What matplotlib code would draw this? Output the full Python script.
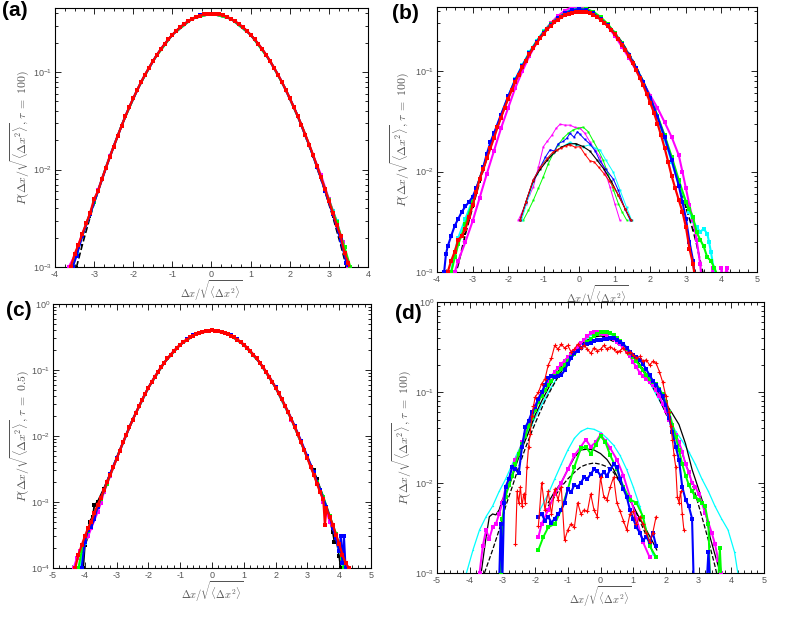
import numpy as np
import matplotlib
matplotlib.use('Agg')
import matplotlib.pyplot as plt
from matplotlib.ticker import MultipleLocator, LogLocator, NullFormatter

plt.rcParams['font.family'] = ['Liberation Sans', 'DejaVu Sans']
plt.rcParams['mathtext.fontset'] = 'custom'
plt.rcParams['mathtext.rm'] = 'Liberation Sans'
plt.rcParams['mathtext.it'] = 'Liberation Sans:italic'
plt.rcParams['axes.unicode_minus'] = False

CYAN = '#00ffff'
MAGENTA = '#ff00ff'
GREEN = '#00ff00'
BLUE = '#0000ff'
RED = '#ff0000'

# ---------------- panel (a): tau = 100 ----------------
a_red = [(-3.6, 0.0010), (-3.5, 0.00135), (-3.4, 0.0017), (-3.3, 0.0022), (-3.2, 0.0028),
         (-3.1, 0.0036), (-3.0, 0.0050), (-2.9, 0.0060), (-2.8, 0.0080), (-2.7, 0.0104),
         (-2.6, 0.0135), (-2.5, 0.0172), (-2.4, 0.0220), (-2.3, 0.0280), (-2.2, 0.0352),
         (-2.1, 0.0440), (-2.0, 0.0540), (-1.9, 0.0655), (-1.8, 0.0790), (-1.7, 0.0940),
         (-1.6, 0.1105), (-1.5, 0.1290), (-1.4, 0.1495), (-1.3, 0.1710), (-1.2, 0.1940),
         (-1.1, 0.2175), (-1.0, 0.2415), (-0.9, 0.2655), (-0.8, 0.2890), (-0.7, 0.3115),
         (-0.6, 0.3325), (-0.5, 0.3515), (-0.4, 0.3675), (-0.3, 0.3810), (-0.2, 0.3905),
         (-0.1, 0.3965), (0.0, 0.3985), (0.1, 0.3965), (0.2, 0.3910), (0.3, 0.3815),
         (0.4, 0.3685), (0.5, 0.3520), (0.6, 0.3330), (0.7, 0.3120), (0.8, 0.2895),
         (0.9, 0.2660), (1.0, 0.2420), (1.1, 0.2180), (1.2, 0.1945), (1.3, 0.1715),
         (1.4, 0.1500), (1.5, 0.1295), (1.6, 0.1110), (1.7, 0.0942), (1.8, 0.0792),
         (1.9, 0.0658), (2.0, 0.0542), (2.1, 0.0442), (2.2, 0.0358), (2.3, 0.0287),
         (2.4, 0.0228), (2.5, 0.0180), (2.6, 0.0140), (2.7, 0.0108), (2.8, 0.0083),
         (2.9, 0.0063), (3.0, 0.0048), (3.1, 0.0036), (3.2, 0.0027), (3.3, 0.0021),
         (3.4, 0.0014), (3.5, 0.0011), (3.55, 0.0009)]
a_blue = [(-3.55, 0.0010), (-3.45, 0.0013), (-3.3, 0.0021), (-3.1, 0.0035), (-2.9, 0.0060),
          (-2.7, 0.0103), (-2.5, 0.0172), (-2.3, 0.0280), (-2.1, 0.0440), (-1.9, 0.0655),
          (-1.7, 0.0940), (-1.5, 0.1292), (-1.3, 0.1712), (-1.1, 0.2178), (-0.9, 0.2660),
          (-0.7, 0.3120), (-0.5, 0.3520), (-0.3, 0.3812), (-0.1, 0.3970), (0.1, 0.3970),
          (0.3, 0.3815), (0.5, 0.3522), (0.7, 0.3122), (0.9, 0.2662), (1.1, 0.2180),
          (1.3, 0.1716), (1.5, 0.1297), (1.7, 0.0944), (1.9, 0.0660), (2.1, 0.0444),
          (2.3, 0.0286), (2.5, 0.0177), (2.7, 0.0106), (2.9, 0.0061), (3.1, 0.0035),
          (3.3, 0.0019), (3.45, 0.0011), (3.5, 0.0009)]
a_green = [(-3.55, 0.0010), (-3.4, 0.0016), (-3.2, 0.0028), (-3.0, 0.0046), (-2.7, 0.0105),
           (-2.3, 0.0282), (-1.9, 0.0657), (-1.5, 0.1297), (-1.0, 0.2422), (-0.5, 0.3522),
           (0.0, 0.3992), (0.5, 0.3522), (1.0, 0.2422), (1.5, 0.1297), (1.9, 0.0660),
           (2.3, 0.0287), (2.7, 0.0108), (3.0, 0.0049), (3.2, 0.0029), (3.4, 0.0016),
           (3.55, 0.0010)]
a_magenta = [(-3.65, 0.0010), (-3.5, 0.0013), (-3.3, 0.0022), (-3.1, 0.0036), (-2.9, 0.0062),
             (-2.6, 0.0137), (-2.2, 0.0356), (-1.8, 0.0791), (-1.4, 0.1498), (-1.0, 0.2421),
             (-0.5, 0.3522), (0.0, 0.3990), (0.5, 0.3522), (1.0, 0.2421), (1.4, 0.1498),
             (1.8, 0.0792), (2.2, 0.0357), (2.6, 0.0140), (2.8, 0.0088), (3.0, 0.0050),
             (3.2, 0.0029), (3.35, 0.0018), (3.5, 0.0010)]
a_cyan = [(-3.55, 0.0010), (-3.45, 0.0014), (-3.3, 0.0021), (-3.1, 0.0035), (-2.9, 0.0061),
          (-2.6, 0.0138), (-2.2, 0.0356), (-1.8, 0.0792), (-1.4, 0.1500), (-1.0, 0.2425),
          (-0.5, 0.3525), (0.0, 0.3990), (0.5, 0.3520), (1.0, 0.2420), (1.4, 0.1500),
          (1.8, 0.0795), (2.2, 0.0358), (2.6, 0.0140), (2.9, 0.0063), (3.1, 0.0038),
          (3.2, 0.0030), (3.3, 0.0021), (3.4, 0.0014), (3.5, 0.0010)]
a_black = [(-3.45, 0.0010), (-3.3, 0.0017), (-3.1, 0.0033), (-2.9, 0.0060), (-2.6, 0.0136),
           (-2.2, 0.0355), (-1.8, 0.0790), (-1.4, 0.1497), (-1.0, 0.2420), (-0.5, 0.3521),
           (0.0, 0.3989), (0.5, 0.3521), (1.0, 0.2420), (1.4, 0.1497), (1.8, 0.0790),
           (2.2, 0.0355), (2.6, 0.0136), (2.9, 0.0060), (3.1, 0.0033), (3.3, 0.0017),
           (3.45, 0.0010)]

# ---------------- panel (b): tau = 100, main curves ----------------
b_red = [(-3.7, 0.0010), (-3.6, 0.0013), (-3.5, 0.0016), (-3.4, 0.0021), (-3.3, 0.0023),
         (-3.2, 0.0027), (-3.1, 0.0035), (-3.0, 0.0046), (-2.9, 0.0062), (-2.8, 0.0085),
         (-2.7, 0.0105), (-2.6, 0.0135), (-2.5, 0.0170), (-2.4, 0.0215), (-2.3, 0.0275),
         (-2.2, 0.0345), (-2.1, 0.0430), (-2.0, 0.0530), (-1.9, 0.0645), (-1.8, 0.0780),
         (-1.7, 0.0925), (-1.6, 0.1090), (-1.5, 0.1270), (-1.4, 0.1470), (-1.3, 0.1680),
         (-1.2, 0.1900), (-1.1, 0.2130), (-1.0, 0.2360), (-0.9, 0.2600), (-0.8, 0.2830),
         (-0.7, 0.3050), (-0.6, 0.3250), (-0.5, 0.3440), (-0.4, 0.3600), (-0.3, 0.3730),
         (-0.2, 0.3830), (-0.1, 0.3900), (0.0, 0.3920), (0.1, 0.3900), (0.2, 0.3850),
         (0.3, 0.3750), (0.4, 0.3620), (0.5, 0.3450), (0.6, 0.3260), (0.7, 0.3040),
         (0.8, 0.2810), (0.9, 0.2570), (1.0, 0.2320), (1.1, 0.2080), (1.2, 0.1840),
         (1.3, 0.1610), (1.4, 0.1400), (1.5, 0.1200), (1.6, 0.1020), (1.7, 0.0860),
         (1.8, 0.0720), (1.9, 0.0590), (2.0, 0.0480), (2.1, 0.0385), (2.2, 0.0300),
         (2.3, 0.0230), (2.4, 0.0172), (2.5, 0.0125), (2.6, 0.0090), (2.7, 0.0068),
         (2.8, 0.0052), (2.9, 0.0040), (3.0, 0.0028), (3.1, 0.0017), (3.2, 0.0012),
         (3.25, 0.0009)]
b_blue = [(-3.8, 0.0010), (-3.75, 0.0015), (-3.7, 0.0018), (-3.6, 0.0023), (-3.5, 0.0029),
          (-3.4, 0.0034), (-3.3, 0.0040), (-3.2, 0.0045), (-3.1, 0.0050), (-3.0, 0.0056),
          (-2.9, 0.0068), (-2.8, 0.0085), (-2.7, 0.0110), (-2.6, 0.0150), (-2.5, 0.0195),
          (-2.4, 0.0240), (-2.2, 0.0370), (-2.0, 0.0560), (-1.8, 0.0820), (-1.6, 0.1130),
          (-1.4, 0.1500), (-1.2, 0.1950), (-1.0, 0.2420), (-0.8, 0.2900), (-0.6, 0.3350),
          (-0.4, 0.3750), (-0.2, 0.4050), (0.0, 0.4150), (0.2, 0.4050), (0.4, 0.3750),
          (0.6, 0.3300), (0.8, 0.2850), (1.0, 0.2350), (1.2, 0.1880), (1.4, 0.1450),
          (1.6, 0.1080), (1.8, 0.0780), (2.0, 0.0540), (2.2, 0.0350), (2.4, 0.0220),
          (2.6, 0.0130), (2.8, 0.0072), (2.9, 0.0050), (3.0, 0.0034), (3.1, 0.0020),
          (3.2, 0.0013), (3.25, 0.0009)]
b_green = [(-3.6, 0.0010), (-3.5, 0.0014), (-3.4, 0.0019), (-3.2, 0.0030), (-3.0, 0.0050),
           (-2.8, 0.0085), (-2.6, 0.0140), (-2.4, 0.0225), (-2.2, 0.0350), (-2.0, 0.0540),
           (-1.8, 0.0800), (-1.6, 0.1120), (-1.4, 0.1520), (-1.2, 0.1970), (-1.0, 0.2450),
           (-0.8, 0.2950), (-0.6, 0.3400), (-0.4, 0.3800), (-0.2, 0.4050), (0.0, 0.4200),
           (0.2, 0.4150), (0.4, 0.3900), (0.6, 0.3450), (0.8, 0.2950), (1.0, 0.2400),
           (1.2, 0.1900), (1.4, 0.1450), (1.6, 0.1080), (1.8, 0.0780), (2.0, 0.0540),
           (2.2, 0.0360), (2.4, 0.0230), (2.6, 0.0140), (2.8, 0.0082), (3.0, 0.0050),
           (3.1, 0.0042), (3.2, 0.0035), (3.3, 0.0025), (3.4, 0.0021), (3.5, 0.0018),
           (3.6, 0.0014), (3.7, 0.0013), (3.8, 0.0011), (3.9, 0.0009)]
b_magenta = [(-3.5, 0.0010), (-3.4, 0.0013), (-3.2, 0.0020), (-3.0, 0.0032), (-2.8, 0.0055),
             (-2.6, 0.0095), (-2.4, 0.0160), (-2.2, 0.0270), (-2.0, 0.0430), (-1.8, 0.0680),
             (-1.6, 0.1000), (-1.4, 0.1420), (-1.2, 0.1920), (-1.0, 0.2450), (-0.8, 0.3000),
             (-0.6, 0.3550), (-0.4, 0.4000), (-0.2, 0.4350), (0.0, 0.4400), (0.2, 0.4200),
             (0.4, 0.3850), (0.6, 0.3350), (0.8, 0.2800), (1.0, 0.2250), (1.2, 0.1750),
             (1.4, 0.1350), (1.6, 0.1020), (1.8, 0.0770), (2.0, 0.0570), (2.2, 0.0430),
             (2.4, 0.0310), (2.6, 0.0220), (2.8, 0.0145), (2.9, 0.0100), (3.0, 0.0068),
             (3.1, 0.0046), (3.2, 0.0033), (3.3, 0.0021), (3.4, 0.0012), (3.45, 0.0008),
             (3.7, 0.0008), (3.75, 0.0011), (3.8, 0.0008), (3.98, 0.0008), (4.0, 0.0011),
             (4.05, 0.0008), (4.15, 0.0011), (4.2, 0.0008)]
b_cyan = [(-3.6, 0.0010), (-3.5, 0.0016), (-3.4, 0.0022), (-3.2, 0.0034), (-3.0, 0.0052),
          (-2.8, 0.0085), (-2.6, 0.0140), (-2.4, 0.0230), (-2.2, 0.0360), (-2.0, 0.0560),
          (-1.8, 0.0830), (-1.6, 0.1150), (-1.4, 0.1550), (-1.2, 0.2000), (-1.0, 0.2500),
          (-0.8, 0.3000), (-0.6, 0.3450), (-0.4, 0.3850), (-0.2, 0.4200), (0.0, 0.4250),
          (0.2, 0.4100), (0.4, 0.3750), (0.6, 0.3300), (0.8, 0.2800), (1.0, 0.2300),
          (1.2, 0.1820), (1.4, 0.1400), (1.6, 0.1040), (1.8, 0.0750), (2.0, 0.0520),
          (2.2, 0.0340), (2.4, 0.0210), (2.6, 0.0125), (2.8, 0.0075), (3.0, 0.0050),
          (3.1, 0.0040), (3.2, 0.0032), (3.3, 0.0028), (3.4, 0.0025), (3.5, 0.0027),
          (3.6, 0.0024), (3.65, 0.0020), (3.7, 0.0016), (3.78, 0.0011), (3.82, 0.0009)]
b_black = [(-3.5, 0.0009), (-3.4, 0.0012), (-3.2, 0.0024), (-3.0, 0.0044), (-2.8, 0.0079),
           (-2.6, 0.0136), (-2.4, 0.0224), (-2.2, 0.0355), (-2.0, 0.0540), (-1.8, 0.0790),
           (-1.6, 0.1109), (-1.4, 0.1497), (-1.2, 0.1942), (-1.0, 0.2420), (-0.8, 0.2897),
           (-0.6, 0.3332), (-0.4, 0.3683), (-0.2, 0.3910), (0.0, 0.3989), (0.2, 0.3910),
           (0.4, 0.3683), (0.6, 0.3332), (0.8, 0.2897), (1.0, 0.2420), (1.2, 0.1942),
           (1.4, 0.1497), (1.6, 0.1109), (1.8, 0.0790), (2.0, 0.0540), (2.2, 0.0355),
           (2.4, 0.0224), (2.6, 0.0136), (2.8, 0.0079), (3.0, 0.0044), (3.2, 0.0026),
           (3.3, 0.0019), (3.4, 0.0013), (3.5, 0.0009)]

# panel (b) inset curves
bi_magenta = [(-1.71, 0.0033), (-1.5, 0.0048), (-1.29, 0.0071), (-1.15, 0.0110), (-1.01, 0.0177),
              (-0.9, 0.0200), (-0.77, 0.0230), (-0.65, 0.0270), (-0.54, 0.0296), (-0.4, 0.0290),
              (-0.26, 0.0290), (-0.12, 0.0275), (0.02, 0.0270), (0.16, 0.0240), (0.3, 0.0197),
              (0.44, 0.0165), (0.58, 0.0140), (0.72, 0.0100), (0.86, 0.0071), (1.0, 0.0048),
              (1.14, 0.0033)]
bi_green = [(-1.57, 0.0033), (-1.43, 0.0041), (-1.29, 0.0052), (-1.15, 0.0068), (-1.01, 0.0089),
            (-0.87, 0.0120), (-0.73, 0.0152), (-0.59, 0.0185), (-0.45, 0.0216), (-0.31, 0.0240),
            (-0.17, 0.0260), (-0.03, 0.0270), (0.11, 0.0277), (0.25, 0.0250), (0.39, 0.0203),
            (0.53, 0.0165), (0.67, 0.0130), (0.81, 0.0095), (0.96, 0.0066), (1.1, 0.0048),
            (1.2, 0.0040), (1.33, 0.0033)]
bi_blue = [(-1.66, 0.0033), (-1.5, 0.0050), (-1.29, 0.0083), (-1.1, 0.0110), (-0.95, 0.0140),
           (-0.82, 0.0165), (-0.7, 0.0160), (-0.59, 0.0190), (-0.45, 0.0200), (-0.35, 0.0215),
           (-0.26, 0.0240), (-0.15, 0.0220), (-0.05, 0.0250), (0.02, 0.0235), (0.15, 0.0210),
           (0.3, 0.0188), (0.45, 0.0160), (0.58, 0.0128), (0.75, 0.0105), (0.96, 0.0084),
           (1.1, 0.0065), (1.29, 0.0042), (1.43, 0.0033)]
bi_cyan = [(-1.62, 0.0033), (-1.4, 0.0060), (-1.2, 0.0095), (-1.0, 0.0125), (-0.85, 0.0140),
           (-0.73, 0.0152), (-0.5, 0.0175), (-0.26, 0.0196), (-0.1, 0.0185), (0.11, 0.0177),
           (0.3, 0.0185), (0.45, 0.0170), (0.58, 0.0165), (0.75, 0.0130), (0.96, 0.0098),
           (1.15, 0.0065), (1.33, 0.0044), (1.47, 0.0033)]
bi_black = [(-1.66, 0.0033), (-1.5, 0.0050), (-1.3, 0.0080), (-1.1, 0.0105), (-0.9, 0.0130),
            (-0.7, 0.0155), (-0.5, 0.0175), (-0.3, 0.0188), (-0.1, 0.0190), (0.1, 0.0178),
            (0.3, 0.0160), (0.5, 0.0130), (0.7, 0.0105), (0.9, 0.0080), (1.1, 0.0058),
            (1.3, 0.0042), (1.45, 0.0033)]
bi_red = [(-1.66, 0.0033), (-1.5, 0.0050), (-1.3, 0.0082), (-1.1, 0.0110), (-0.9, 0.0135),
          (-0.75, 0.0155), (-0.64, 0.0165), (-0.5, 0.0172), (-0.38, 0.0180), (-0.26, 0.0185),
          (-0.12, 0.0175), (0.02, 0.0177), (0.15, 0.0150), (0.3, 0.0128), (0.42, 0.0125),
          (0.55, 0.0110), (0.7, 0.0095), (0.85, 0.0080), (0.96, 0.0071), (1.1, 0.0058),
          (1.3, 0.0042), (1.45, 0.0033)]

# ---------------- panel (c): tau = 0.5 ----------------
c_red = [(-4.3, 0.00010), (-4.2, 0.00016), (-4.1, 0.00022), (-4.0, 0.00030), (-3.9, 0.00040),
         (-3.8, 0.00050), (-3.7, 0.00068), (-3.6, 0.00090), (-3.5, 0.00115), (-3.4, 0.00150),
         (-3.3, 0.00200), (-3.2, 0.00260), (-3.1, 0.00340), (-3.0, 0.00450), (-2.9, 0.00600),
         (-2.8, 0.00800), (-2.7, 0.0104), (-2.6, 0.0135), (-2.5, 0.0172), (-2.4, 0.0220),
         (-2.3, 0.0280), (-2.2, 0.0352), (-2.1, 0.0440), (-2.0, 0.0540), (-1.9, 0.0655),
         (-1.8, 0.0790), (-1.7, 0.0940), (-1.6, 0.1105), (-1.5, 0.1290), (-1.4, 0.1495),
         (-1.3, 0.1710), (-1.2, 0.1940), (-1.1, 0.2175), (-1.0, 0.2415), (-0.9, 0.2655),
         (-0.8, 0.2890), (-0.7, 0.3115), (-0.6, 0.3325), (-0.5, 0.3515), (-0.4, 0.3675),
         (-0.3, 0.3810), (-0.2, 0.3905), (-0.1, 0.3965), (0.0, 0.4000), (0.1, 0.3965),
         (0.2, 0.3910), (0.3, 0.3815), (0.4, 0.3685), (0.5, 0.3520), (0.6, 0.3330),
         (0.7, 0.3120), (0.8, 0.2895), (0.9, 0.2660), (1.0, 0.2420), (1.1, 0.2180),
         (1.2, 0.1945), (1.3, 0.1715), (1.4, 0.1500), (1.5, 0.1295), (1.6, 0.1110),
         (1.7, 0.0942), (1.8, 0.0792), (1.9, 0.0658), (2.0, 0.0542), (2.1, 0.0442),
         (2.2, 0.0358), (2.3, 0.0287), (2.4, 0.0228), (2.5, 0.0178), (2.6, 0.0138),
         (2.7, 0.0106), (2.8, 0.0081), (2.9, 0.0061), (3.0, 0.0046), (3.1, 0.0034),
         (3.2, 0.0026), (3.3, 0.0019), (3.4, 0.0014), (3.5, 0.0011), (3.55, 0.00045),
         (3.6, 0.0008), (3.7, 0.00060), (3.8, 0.00045), (3.9, 0.00032), (4.0, 0.00023),
         (4.1, 0.00016), (4.2, 0.00012), (4.3, 0.00010)]
c_blue = [(-4.1, 0.0001), (-4.0, 0.00025), (-3.9, 0.00038), (-3.8, 0.00042), (-3.7, 0.00055),
          (-3.6, 0.00085), (-3.4, 0.0015), (-3.2, 0.0027), (-3.0, 0.0046), (-2.8, 0.0080),
          (-2.6, 0.0136), (-2.4, 0.0222), (-2.2, 0.0354), (-2.0, 0.0541), (-1.8, 0.0790),
          (-1.6, 0.1108), (-1.4, 0.1497), (-1.2, 0.1942), (-1.0, 0.2420), (-0.8, 0.2897),
          (-0.6, 0.3332), (-0.4, 0.3683), (-0.2, 0.3910), (0.0, 0.3995), (0.2, 0.3915),
          (0.4, 0.3690), (0.6, 0.3340), (0.8, 0.2905), (1.0, 0.2430), (1.2, 0.1950),
          (1.4, 0.1505), (1.6, 0.1115), (1.8, 0.0795), (2.0, 0.0545), (2.2, 0.0360),
          (2.4, 0.0230), (2.6, 0.0142), (2.8, 0.0085), (3.0, 0.0049), (3.2, 0.0028),
          (3.4, 0.0015), (3.6, 0.00085), (3.7, 0.00060), (3.8, 0.00040), (3.9, 0.00028),
          (4.0, 0.00018), (4.05, 0.00030), (4.1, 0.00012), (4.15, 0.00030), (4.2, 0.0001)]
c_green = [(-4.2, 0.0001), (-4.1, 0.00018), (-4.0, 0.00026), (-3.9, 0.00036), (-3.7, 0.00060),
           (-3.5, 0.0011), (-3.3, 0.0019), (-3.0, 0.0046), (-2.5, 0.0176), (-2.0, 0.0541),
           (-1.5, 0.1296), (-1.0, 0.2421), (-0.5, 0.3522), (0.0, 0.3992), (0.5, 0.3522),
           (1.0, 0.2421), (1.5, 0.1297), (2.0, 0.0542), (2.5, 0.0178), (3.0, 0.0047),
           (3.3, 0.0020), (3.5, 0.0012), (3.7, 0.00062), (3.9, 0.00033), (4.0, 0.00022),
           (4.1, 0.00014), (4.15, 0.0001)]
c_magenta = [(-4.35, 0.0001), (-4.25, 0.00014), (-4.15, 0.00018), (-4.0, 0.00025), (-3.9, 0.00030),
             (-3.8, 0.00040), (-3.6, 0.00070), (-3.5, 0.00095), (-3.4, 0.0014), (-3.2, 0.0025),
             (-3.0, 0.0045), (-2.5, 0.0175), (-2.0, 0.0540), (-1.5, 0.1295), (-1.0, 0.2420),
             (-0.5, 0.3521), (0.0, 0.3990), (0.5, 0.3521), (1.0, 0.2420), (1.5, 0.1295),
             (2.0, 0.0541), (2.5, 0.0177), (3.0, 0.0047), (3.4, 0.0015), (3.5, 0.0010),
             (3.6, 0.00075), (3.7, 0.00050), (3.8, 0.00040), (3.9, 0.00030), (4.0, 0.00022),
             (4.1, 0.00015), (4.2, 0.00012), (4.3, 0.0001)]
c_cyan = [(-4.15, 0.0001), (-4.0, 0.00024), (-3.8, 0.00045), (-3.5, 0.0011), (-3.0, 0.0046),
          (-2.5, 0.0175), (-2.0, 0.0540), (-1.5, 0.1295), (-1.0, 0.2420), (-0.5, 0.3521),
          (0.0, 0.3990), (0.5, 0.3521), (1.0, 0.2420), (1.5, 0.1295), (2.0, 0.0541),
          (2.5, 0.0177), (3.0, 0.0047), (3.5, 0.0011), (3.8, 0.00042), (4.0, 0.00020),
          (4.15, 0.0001)]
c_black = [(-4.05, 0.0001), (-4.0, 0.00022), (-3.9, 0.00030), (-3.85, 0.00050), (-3.75, 0.00060),
           (-3.7, 0.00090), (-3.6, 0.0010), (-3.4, 0.0016), (-3.0, 0.0046), (-2.5, 0.0175),
           (-2.0, 0.0540), (-1.5, 0.1295), (-1.0, 0.2420), (-0.5, 0.3521), (0.0, 0.3990),
           (0.5, 0.3521), (1.0, 0.2420), (1.5, 0.1295), (2.0, 0.0540), (2.5, 0.0176),
           (3.0, 0.0046), (3.2, 0.0030), (3.3, 0.0022), (3.5, 0.0012), (3.7, 0.00055),
           (3.8, 0.00035), (3.85, 0.00025), (3.9, 0.00030), (4.0, 0.00015), (4.05, 0.0001)]

# ---------------- panel (d): tau = 100, main curves ----------------
d_cyan = [(-4.1, 0.0010), (-3.9, 0.0018), (-3.7, 0.0030), (-3.5, 0.0042), (-3.3, 0.0055),
          (-3.1, 0.0080), (-2.9, 0.0110), (-2.7, 0.0160), (-2.5, 0.0230), (-2.3, 0.0320),
          (-2.1, 0.0440), (-1.9, 0.0620), (-1.7, 0.0850), (-1.5, 0.1150), (-1.3, 0.1500),
          (-1.1, 0.1950), (-0.9, 0.2500), (-0.7, 0.3100), (-0.5, 0.3700), (-0.3, 0.4300),
          (-0.1, 0.4700), (0.1, 0.4700), (0.3, 0.4400), (0.5, 0.4000), (0.7, 0.3500),
          (0.9, 0.2900), (1.1, 0.2300), (1.3, 0.1750), (1.5, 0.1300), (1.7, 0.0950),
          (1.9, 0.0700), (2.1, 0.0500), (2.3, 0.0370), (2.5, 0.0290), (2.7, 0.0220),
          (2.9, 0.0160), (3.1, 0.0110), (3.3, 0.0080), (3.5, 0.0055), (3.7, 0.0040),
          (3.9, 0.0030), (4.1, 0.0017), (4.2, 0.0010)]
d_black = [(-3.65, 0.0010), (-3.5, 0.0025), (-3.4, 0.0042), (-3.3, 0.0045), (-3.2, 0.0044),
           (-3.1, 0.0050), (-3.0, 0.0065), (-2.8, 0.0090), (-2.6, 0.0150), (-2.4, 0.0240),
           (-2.2, 0.0360), (-2.0, 0.0560), (-1.8, 0.0800), (-1.6, 0.1100), (-1.4, 0.1500),
           (-1.2, 0.1950), (-1.0, 0.2450), (-0.8, 0.2950), (-0.6, 0.3400), (-0.4, 0.3800),
           (-0.2, 0.4100), (0.0, 0.4200), (0.2, 0.4100), (0.4, 0.3850), (0.6, 0.3500),
           (0.8, 0.3050), (1.0, 0.2550), (1.2, 0.2050), (1.4, 0.1600), (1.6, 0.1250),
           (1.8, 0.0950), (2.0, 0.0750), (2.2, 0.0580), (2.4, 0.0440), (2.6, 0.0270),
           (2.8, 0.0140), (3.0, 0.0085), (3.2, 0.0050), (3.35, 0.0025), (3.5, 0.0016),
           (3.6, 0.0012), (3.65, 0.0010)]
d_black_dash = [(-3.55, 0.0010), (-3.3, 0.0018), (-3.1, 0.0030), (-2.9, 0.0055), (-2.7, 0.0090),
                (-2.5, 0.0150), (-2.3, 0.0240), (-2.1, 0.0370), (-1.9, 0.0550), (-1.7, 0.0800),
                (-1.5, 0.1100), (-1.3, 0.1480), (-1.1, 0.1920), (-0.9, 0.2400), (-0.7, 0.2900),
                (-0.5, 0.3350), (-0.3, 0.3700), (-0.1, 0.3900), (0.1, 0.3920), (0.3, 0.3800),
                (0.5, 0.3500), (0.7, 0.3100), (0.9, 0.2650), (1.1, 0.2180), (1.3, 0.1720),
                (1.5, 0.1320), (1.7, 0.0980), (1.9, 0.0700), (2.1, 0.0480), (2.3, 0.0320),
                (2.5, 0.0210), (2.7, 0.0130), (2.9, 0.0075), (3.1, 0.0042), (3.3, 0.0023),
                (3.5, 0.0012), (3.55, 0.0010)]
d_magenta = [(-3.7, 0.0010), (-3.6, 0.0020), (-3.5, 0.0030), (-3.4, 0.0024), (-3.3, 0.0032),
             (-3.2, 0.0035), (-3.1, 0.0045), (-3.0, 0.0060), (-2.9, 0.0090), (-2.8, 0.0110),
             (-2.7, 0.0150), (-2.6, 0.0180), (-2.5, 0.0210), (-2.4, 0.0280), (-2.3, 0.0340),
             (-2.2, 0.0450), (-2.1, 0.0580), (-2.0, 0.0700), (-1.9, 0.0850), (-1.8, 0.1000),
             (-1.7, 0.1200), (-1.6, 0.1350), (-1.5, 0.1500), (-1.4, 0.1700), (-1.3, 0.1850),
             (-1.2, 0.2050), (-1.1, 0.2250), (-1.0, 0.2450), (-0.9, 0.2650), (-0.8, 0.2900),
             (-0.7, 0.3150), (-0.6, 0.3500), (-0.5, 0.3800), (-0.4, 0.4200), (-0.3, 0.4500),
             (-0.2, 0.4700), (-0.1, 0.4600), (0.0, 0.4550), (0.1, 0.4400), (0.2, 0.4200),
             (0.3, 0.4000), (0.4, 0.3850), (0.5, 0.3600), (0.6, 0.3400), (0.7, 0.3150),
             (0.8, 0.2850), (0.9, 0.2500), (1.0, 0.2150), (1.1, 0.1900), (1.2, 0.1650),
             (1.3, 0.1500), (1.4, 0.1400), (1.5, 0.1300), (1.6, 0.1200), (1.7, 0.1050),
             (1.8, 0.0900), (1.9, 0.0750), (2.0, 0.0620), (2.1, 0.0500), (2.2, 0.0420),
             (2.3, 0.0340), (2.4, 0.0280), (2.5, 0.0220), (2.6, 0.0160), (2.7, 0.0130),
             (2.8, 0.0100), (2.9, 0.0090), (3.0, 0.0075), (3.1, 0.0060), (3.2, 0.0046),
             (3.3, 0.0036), (3.4, 0.0028), (3.5, 0.0021), (3.6, 0.0014), (3.7, 0.0010)]
d_green = [(-3.05, 0.0010), (-3.0, 0.0040), (-2.9, 0.0070), (-2.8, 0.0095), (-2.7, 0.0120),
           (-2.6, 0.0160), (-2.5, 0.0210), (-2.4, 0.0270), (-2.3, 0.0330), (-2.2, 0.0420),
           (-2.1, 0.0520), (-2.0, 0.0640), (-1.9, 0.0780), (-1.8, 0.0920), (-1.7, 0.1050),
           (-1.6, 0.1200), (-1.5, 0.1350), (-1.4, 0.1500), (-1.3, 0.1650), (-1.2, 0.1800),
           (-1.1, 0.2000), (-1.0, 0.2250), (-0.9, 0.2450), (-0.8, 0.2650), (-0.7, 0.2850),
           (-0.6, 0.3100), (-0.5, 0.3300), (-0.4, 0.3600), (-0.3, 0.3900), (-0.2, 0.4200),
           (-0.1, 0.4400), (0.0, 0.4600), (0.1, 0.4700), (0.2, 0.4600), (0.3, 0.4500),
           (0.4, 0.4300), (0.5, 0.4000), (0.6, 0.3700), (0.7, 0.3400), (0.8, 0.3050),
           (0.9, 0.2750), (1.0, 0.2450), (1.1, 0.2200), (1.2, 0.1950), (1.3, 0.1750),
           (1.4, 0.1550), (1.5, 0.1400), (1.6, 0.1300), (1.7, 0.1250), (1.8, 0.1100),
           (1.9, 0.0950), (2.0, 0.0780), (2.1, 0.0600), (2.2, 0.0440), (2.3, 0.0320),
           (2.4, 0.0230), (2.5, 0.0160), (2.6, 0.0120), (2.7, 0.0095), (2.8, 0.0080),
           (2.9, 0.0070), (3.0, 0.0065), (3.1, 0.0060), (3.2, 0.0055), (3.3, 0.0035),
           (3.35, 0.0008), (3.6, 0.0008), (3.65, 0.0019), (3.7, 0.0008)]
d_blue = [(-3.1, 0.0008), (-3.05, 0.0035), (-3.0, 0.0009), (-2.95, 0.0060), (-2.9, 0.0090),
          (-2.8, 0.0110), (-2.7, 0.0150), (-2.6, 0.0140), (-2.5, 0.0127), (-2.4, 0.0250),
          (-2.3, 0.0410), (-2.2, 0.0480), (-2.1, 0.0600), (-2.0, 0.0690), (-1.9, 0.0850),
          (-1.8, 0.1000), (-1.7, 0.1200), (-1.6, 0.1450), (-1.5, 0.1500), (-1.4, 0.1480),
          (-1.3, 0.1520), (-1.2, 0.1550), (-1.1, 0.1750), (-1.0, 0.2050), (-0.9, 0.2400),
          (-0.8, 0.2700), (-0.7, 0.2900), (-0.6, 0.3100), (-0.5, 0.3300), (-0.4, 0.3400),
          (-0.3, 0.3500), (-0.2, 0.3700), (-0.1, 0.3800), (0.0, 0.3750), (0.1, 0.3850),
          (0.2, 0.3900), (0.3, 0.4000), (0.4, 0.3950), (0.5, 0.3800), (0.6, 0.3600),
          (0.7, 0.3400), (0.8, 0.3100), (0.9, 0.2800), (1.0, 0.2600), (1.1, 0.2450),
          (1.2, 0.2300), (1.3, 0.2050), (1.4, 0.1800), (1.5, 0.1550), (1.6, 0.1350),
          (1.7, 0.1200), (1.8, 0.1050), (1.9, 0.0900), (2.0, 0.0720), (2.1, 0.0520),
          (2.2, 0.0360), (2.3, 0.0250), (2.4, 0.0180), (2.5, 0.0090), (2.6, 0.0065),
          (2.7, 0.0055), (2.8, 0.0040), (2.85, 0.0008), (3.25, 0.0008), (3.3, 0.0017),
          (3.35, 0.0008)]
d_red = [(-2.6, 0.0021), (-2.55, 0.0080), (-2.5, 0.0060), (-2.45, 0.0090), (-2.4, 0.0055),
         (-2.35, 0.0075), (-2.3, 0.0060), (-2.25, 0.0150), (-2.2, 0.0250), (-2.15, 0.0350),
         (-2.1, 0.0550), (-2.05, 0.0700), (-2.0, 0.0880), (-1.9, 0.1000), (-1.8, 0.1250),
         (-1.7, 0.1400), (-1.6, 0.2000), (-1.5, 0.2400), (-1.4, 0.3300), (-1.3, 0.3000),
         (-1.2, 0.3400), (-1.1, 0.3100), (-1.0, 0.3300), (-0.9, 0.2800), (-0.8, 0.3000),
         (-0.7, 0.3400), (-0.6, 0.3100), (-0.5, 0.3300), (-0.4, 0.3000), (-0.3, 0.2700),
         (-0.2, 0.3100), (-0.1, 0.2900), (0.0, 0.3000), (0.1, 0.3300), (0.2, 0.3000),
         (0.3, 0.3200), (0.4, 0.3000), (0.5, 0.2800), (0.6, 0.2900), (0.7, 0.3100),
         (0.8, 0.2700), (0.9, 0.2800), (1.0, 0.2600), (1.1, 0.2400), (1.2, 0.2500),
         (1.3, 0.2200), (1.4, 0.2300), (1.5, 0.2000), (1.6, 0.2200), (1.7, 0.2100),
         (1.8, 0.1700), (1.9, 0.1300), (2.0, 0.0900), (2.1, 0.0600), (2.15, 0.0420),
         (2.2, 0.0300), (2.25, 0.0200), (2.3, 0.0150), (2.35, 0.0070), (2.4, 0.0060),
         (2.45, 0.0080), (2.5, 0.0045), (2.55, 0.0030)]

# panel (d) inset curves
di_cyan = [(-1.85, 0.0050), (-1.6, 0.0075), (-1.4, 0.0110), (-1.2, 0.0160), (-1.0, 0.0230),
           (-0.8, 0.0310), (-0.6, 0.0370), (-0.4, 0.0400), (-0.2, 0.0390), (0.0, 0.0360),
           (0.2, 0.0310), (0.4, 0.0260), (0.6, 0.0200), (0.8, 0.0140), (1.0, 0.0090),
           (1.2, 0.0055), (1.4, 0.0030), (1.6, 0.0016)]
di_black = [(-1.6, 0.0060), (-1.4, 0.0080), (-1.2, 0.0100), (-1.0, 0.0140), (-0.8, 0.0190),
            (-0.6, 0.0230), (-0.4, 0.0235), (-0.2, 0.0230), (0.0, 0.0210), (0.2, 0.0180),
            (0.4, 0.0140), (0.6, 0.0100), (0.8, 0.0075), (1.0, 0.0055), (1.2, 0.0040),
            (1.4, 0.0030), (1.6, 0.0022), (1.72, 0.0018)]
di_black_dash = [(-1.6, 0.0055), (-1.4, 0.0070), (-1.2, 0.0090), (-1.0, 0.0110), (-0.8, 0.0130),
                 (-0.6, 0.0150), (-0.4, 0.0160), (-0.2, 0.0165), (0.0, 0.0160), (0.2, 0.0150),
                 (0.4, 0.0130), (0.6, 0.0100), (0.8, 0.0075), (1.0, 0.0055), (1.2, 0.0038),
                 (1.4, 0.0026), (1.6, 0.0017)]
di_magenta = [(-1.9, 0.0025), (-1.8, 0.0035), (-1.6, 0.0050), (-1.4, 0.0075), (-1.2, 0.0100),
              (-1.0, 0.0140), (-0.8, 0.0200), (-0.6, 0.0250), (-0.45, 0.0300), (-0.3, 0.0250),
              (-0.15, 0.0280), (0.0, 0.0340), (0.15, 0.0290), (0.3, 0.0240), (0.5, 0.0180),
              (0.7, 0.0120), (0.9, 0.0070), (1.1, 0.0040), (1.3, 0.0022), (1.5, 0.0015)]
di_green = [(-1.9, 0.0018), (-1.75, 0.0025), (-1.6, 0.0032), (-1.4, 0.0035), (-1.2, 0.0050),
            (-1.0, 0.0085), (-0.8, 0.0150), (-0.6, 0.0240), (-0.45, 0.0250), (-0.3, 0.0210),
            (-0.15, 0.0260), (0.0, 0.0330), (0.15, 0.0280), (0.3, 0.0200), (0.5, 0.0140),
            (0.7, 0.0090), (0.9, 0.0065), (1.1, 0.0060), (1.3, 0.0042), (1.5, 0.0020),
            (1.7, 0.0015)]
di_blue = [(-1.9, 0.0042), (-1.8, 0.0045), (-1.7, 0.0038), (-1.6, 0.0042), (-1.5, 0.0036),
           (-1.4, 0.0040), (-1.3, 0.0045), (-1.2, 0.0050), (-1.1, 0.0060), (-1.0, 0.0085),
           (-0.9, 0.0078), (-0.8, 0.0095), (-0.7, 0.0090), (-0.6, 0.0100), (-0.5, 0.0115),
           (-0.4, 0.0110), (-0.3, 0.0125), (-0.2, 0.0140), (-0.1, 0.0135), (0.0, 0.0120),
           (0.1, 0.0130), (0.2, 0.0120), (0.3, 0.0140), (0.4, 0.0160), (0.5, 0.0150),
           (0.6, 0.0110), (0.7, 0.0085), (0.8, 0.0070), (0.9, 0.0050), (1.0, 0.0040),
           (1.1, 0.0032), (1.2, 0.0028), (1.3, 0.0023), (1.4, 0.0025), (1.5, 0.0022),
           (1.6, 0.0028), (1.7, 0.0020)]
di_red = [(-1.9, 0.0033), (-1.8, 0.0100), (-1.7, 0.0050), (-1.6, 0.0080), (-1.5, 0.0045),
          (-1.4, 0.0085), (-1.3, 0.0065), (-1.2, 0.0090), (-1.1, 0.0023), (-1.0, 0.0030),
          (-0.9, 0.0035), (-0.8, 0.0032), (-0.7, 0.0060), (-0.6, 0.0045), (-0.5, 0.0050),
          (-0.4, 0.0048), (-0.3, 0.0075), (-0.2, 0.0050), (-0.1, 0.0042), (0.0, 0.0115),
          (0.1, 0.0070), (0.2, 0.0065), (0.3, 0.0090), (0.4, 0.0115), (0.5, 0.0060),
          (0.6, 0.0048), (0.7, 0.0038), (0.8, 0.0030), (0.9, 0.0045), (1.0, 0.0048),
          (1.1, 0.0035), (1.2, 0.0042), (1.3, 0.0035), (1.4, 0.0028), (1.5, 0.0022),
          (1.6, 0.0028), (1.7, 0.0042)]

XLABEL = r'$\Delta x/\sqrt{\langle\Delta x^2\rangle}$'
YLAB_100 = r'$P(\Delta x/\sqrt{\langle\Delta x^2\rangle}, \tau\ =\ 100)$'
YLAB_05 = r'$P(\Delta x/\sqrt{\langle\Delta x^2\rangle}, \tau\ =\ 0.5)$'
GREY = '#555555'


def draw(ax, pts, color, ls='-', lw=1.5, marker='s', ms=2.6, z=2):
    x, y = zip(*pts)
    mew = 0.8 if marker == '+' else 0
    ax.plot(x, y, color=color, ls=ls, lw=lw, marker=marker, ms=ms, mew=mew, zorder=z)


def setup(ax, xlim, ylim, xminor, ylabel, ylab_x):
    ax.set_yscale('log')
    ax.set_xlim(xlim)
    ax.set_ylim(ylim)
    ax.xaxis.set_major_locator(MultipleLocator(1))
    ax.xaxis.set_minor_locator(MultipleLocator(xminor))
    ax.yaxis.set_major_locator(LogLocator(base=10, numticks=10))
    ax.yaxis.set_minor_locator(LogLocator(base=10, subs=np.arange(2, 10) * 1.0, numticks=20))
    ax.yaxis.set_minor_formatter(NullFormatter())
    ax.tick_params(which='both', direction='in', top=True, right=True,
                   labelsize=6.5, labelcolor=GREY, width=0.6, pad=2)
    ax.tick_params(which='major', length=4)
    ax.tick_params(which='minor', length=2)
    for s in ax.spines.values():
        s.set_linewidth(0.8)
    ax.set_xlabel(XLABEL, fontsize=7.5, color=GREY, math_fontfamily='cm', labelpad=0)
    ax.set_ylabel(ylabel, fontsize=8.5, color=GREY, math_fontfamily='cm')
    ax.yaxis.set_label_coords(ylab_x, 0.5)


fig = plt.figure(figsize=(7.89, 6.42), dpi=100)
axa = fig.add_axes([0.0697, 0.584, 0.3967, 0.4034])
axb = fig.add_axes([0.5539, 0.5763, 0.4056, 0.4128])
axc = fig.add_axes([0.0672, 0.1153, 0.4030, 0.4112])
axd = fig.add_axes([0.5539, 0.1075, 0.4144, 0.4221])

# (a)
draw(axa, a_black, 'k', ls='--', lw=1.2, ms=2.0, z=2)
draw(axa, a_cyan, CYAN, z=3)
draw(axa, a_magenta, MAGENTA, z=3)
draw(axa, a_green, GREEN, z=4)
draw(axa, a_blue, BLUE, z=5)
draw(axa, a_red, RED, lw=1.6, ms=3.0, z=6)
setup(axa, (-4, 4), (1e-3, 0.454), 0.25, YLAB_100, -0.078)

# (b)
draw(axb, b_black, 'k', ls='--', lw=1.2, ms=2.0, z=2)
draw(axb, b_cyan, CYAN, z=3)
draw(axb, b_magenta, MAGENTA, z=3)
draw(axb, b_green, GREEN, z=4)
draw(axb, b_blue, BLUE, z=5)
draw(axb, b_red, RED, lw=1.6, ms=3.0, z=6)
draw(axb, bi_magenta, MAGENTA, lw=0.7, ms=1.4, z=3)
draw(axb, bi_green, GREEN, lw=0.7, ms=1.4, z=3)
draw(axb, bi_cyan, CYAN, lw=0.7, ms=1.4, z=3)
draw(axb, bi_blue, BLUE, lw=0.7, ms=1.4, z=4)
draw(axb, bi_black, 'k', lw=0.8, ms=1.4, z=4)
draw(axb, bi_red, RED, lw=0.7, ms=1.4, z=5)
setup(axb, (-4, 5), (1e-3, 0.435), 0.25, YLAB_100, -0.08)

# (c)
draw(axc, c_black, 'k', lw=1.3, ms=2.6, z=2)
draw(axc, c_cyan, CYAN, z=3)
draw(axc, c_magenta, MAGENTA, z=3)
draw(axc, c_green, GREEN, z=4)
draw(axc, c_blue, BLUE, z=5)
draw(axc, c_red, RED, lw=1.6, ms=3.0, z=6)
setup(axc, (-5, 5), (1e-4, 1.0), 0.2, YLAB_05, -0.07)

# (d)
draw(axd, d_cyan, CYAN, lw=0.9, marker='.', ms=2.0, z=2)
draw(axd, d_black, 'k', lw=0.9, marker=None, z=3)
draw(axd, d_black_dash, 'k', ls='--', lw=0.9, marker=None, z=3)
draw(axd, d_magenta, MAGENTA, lw=1.4, ms=2.8, z=4)
draw(axd, d_green, GREEN, lw=1.4, ms=2.8, z=4)
draw(axd, d_blue, BLUE, lw=1.5, ms=2.8, z=5)
draw(axd, d_red, RED, lw=0.8, marker='+', ms=3.0, z=6)
draw(axd, di_cyan, CYAN, lw=0.9, marker='.', ms=2.0, z=2)
draw(axd, di_black, 'k', lw=0.9, marker=None, z=3)
draw(axd, di_black_dash, 'k', ls='--', lw=0.9, marker=None, z=3)
draw(axd, di_magenta, MAGENTA, lw=1.4, ms=2.8, z=4)
draw(axd, di_green, GREEN, lw=1.4, ms=2.8, z=4)
draw(axd, di_blue, BLUE, lw=1.5, ms=2.8, z=5)
draw(axd, di_red, RED, lw=0.8, marker='+', ms=3.0, z=6)
setup(axd, (-5, 5), (1e-3, 1.0), 0.2, YLAB_100, -0.073)

for txt, x, y in [('(a)', 0.003, 0.998), ('(b)', 0.497, 0.994),
                  ('(c)', 0.008, 0.531), ('(d)', 0.501, 0.527)]:
    fig.text(x, y, txt, fontsize=15, fontweight='bold', va='top', ha='left')

fig.savefig('out.png', dpi=100)
